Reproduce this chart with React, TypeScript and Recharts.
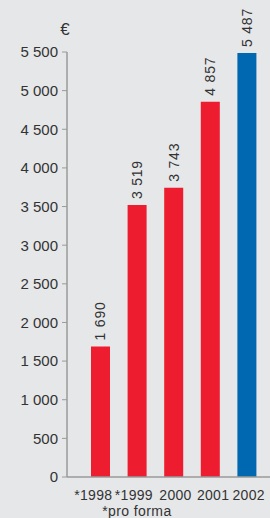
import React from 'react';
import { BarChart, Bar, XAxis, YAxis, Cell, LabelList, Label } from 'recharts';

const years = ['*1998', '*1999', '2000', '2001', '2002'];
const values = [1690, 3519, 3743, 4857, 5487];
const barColors = ['#ed1c2e', '#ed1c2e', '#ed1c2e', '#ed1c2e', '#0067b1'];
const yTicks = [0, 500, 1000, 1500, 2000, 2500, 3000, 3500, 4000, 4500, 5000, 5500];

const data = years.map((year, i) => ({ year, value: values[i] }));

const fmt = (v: number) => String(v).replace(/\B(?=(\d{3})+(?!\d))/g, ' ');

const FONT = 'Liberation Sans, Arial, sans-serif';
const TEXT = '#333333';
const AXIS = '#9a9a9a';

// the year labels in the original sit a little off the bar centres
const tickShift = [-7, -3, 2, 3, 2];

const YearTick = (props: any) => {
  const { x, y, payload, index } = props;
  return (
    <g>
      <text
        x={x + tickShift[index]}
        y={y + 15}
        textAnchor="middle"
        fontSize={14}
        letterSpacing={0.3}
        fill={TEXT}
        fontFamily={FONT}
      >
        {payload.value}
      </text>
      {index === 1 && (
        <text x={x} y={y + 31} textAnchor="middle" fontSize={14} letterSpacing={0.4} fill={TEXT} fontFamily={FONT}>
          *pro forma
        </text>
      )}
    </g>
  );
};

const ValueLabel = (props: any) => {
  const { x, y, width, value } = props;
  const cx = x + width / 2;
  const ty = y - 6;
  return (
    <text
      x={cx}
      y={ty}
      transform={`rotate(-90 ${cx} ${ty})`}
      textAnchor="start"
      dominantBaseline="central"
      fontSize={14}
      letterSpacing={0.8}
      fill={TEXT}
      fontFamily={FONT}
    >
      {fmt(value)}
    </text>
  );
};

const EuroLabel = (props: any) => {
  const { viewBox } = props;
  return (
    <text
      x={viewBox.x + viewBox.width - 2}
      y={viewBox.y - 23}
      textAnchor="middle"
      dominantBaseline="central"
      fontSize={17}
      fill={TEXT}
      fontFamily={FONT}
    >
      €
    </text>
  );
};

export default function App() {
  return (
    <div style={{ position: 'absolute', left: 0, top: 0, width: 270, height: 518, background: '#e6e7e9' }}>
      <BarChart width={270} height={518} data={data} margin={{ top: 52, right: 0, bottom: 0, left: 0 }} barSize={19}>
        <XAxis
          dataKey="year"
          height={41}
          tickLine={false}
          axisLine={{ stroke: AXIS, strokeWidth: 1.5 }}
          padding={{ left: 15, right: 5 }}
          tick={<YearTick />}
          interval={0}
        />
        <YAxis
          width={67}
          domain={[0, 5500]}
          ticks={yTicks}
          interval={0}
          tickSize={5}
          tickMargin={4}
          tickFormatter={fmt}
          tick={{ fill: TEXT, fontSize: 15, fontFamily: FONT }}
          tickLine={{ stroke: AXIS }}
          axisLine={{ stroke: AXIS, strokeWidth: 1.5 }}
        >
          <Label content={<EuroLabel />} position="top" />
        </YAxis>
        <Bar dataKey="value" isAnimationActive={false}>
          {data.map((d, i) => (
            <Cell key={d.year} fill={barColors[i]} />
          ))}
          <LabelList dataKey="value" content={<ValueLabel />} />
        </Bar>
      </BarChart>
    </div>
  );
}
